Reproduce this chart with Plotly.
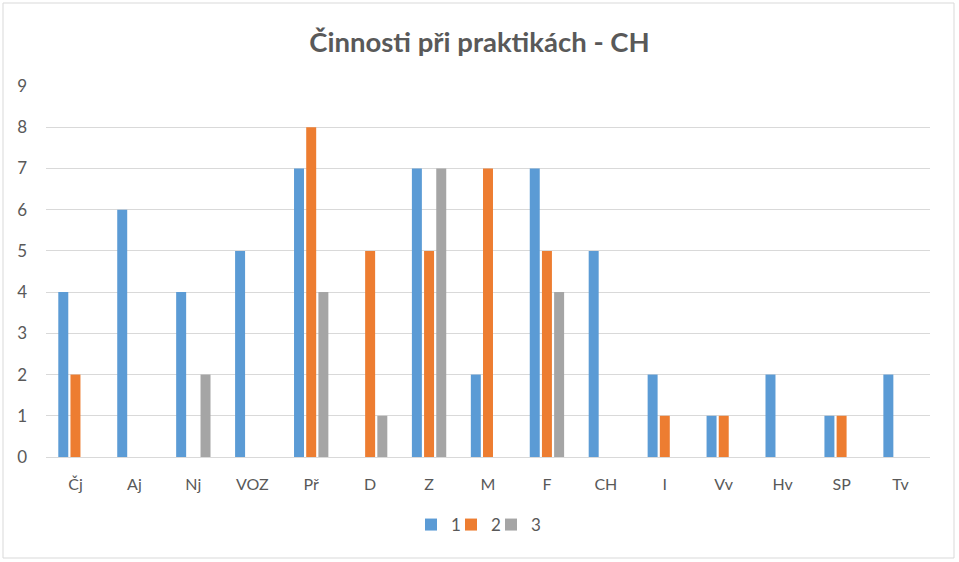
import plotly.graph_objects as go

categories = ["Čj", "Aj", "Nj", "VOZ", "Př", "D", "Z", "M", "F", "CH", "I", "Vv", "Hv", "SP", "Tv"]
series_names = ["1", "2", "3"]
s1 = [4, 6, 4, 5, 7, 0, 7, 2, 7, 5, 2, 1, 2, 1, 2]
s2 = [2, 0, 0, 0, 8, 5, 5, 7, 5, 0, 1, 1, 0, 1, 0]
s3 = [0, 0, 2, 0, 4, 1, 7, 0, 4, 0, 0, 0, 0, 0, 0]
colors = ["#5B9BD5", "#ED7D31", "#A5A5A5"]

font_family = "Lato, Carlito, Calibri, Open Sans, sans-serif"
text_color = "#595959"

L, R, T, B = 46, 930, 86, 457
W, H = 959, 562
pw, ph = R - L, B - T

def px(x):
    return (x - L) / pw

def py(y):
    return (B - y) / ph

legend_ids = ["legend", "legend2", "legend3"]
legend_starts = [411, 451, 491]

fig = go.Figure()
for name, vals, col, lid in zip(series_names, [s1, s2, s3], colors, legend_ids):
    fig.add_trace(go.Bar(x=categories, y=vals, name=name, marker_color=col,
                         marker_line_width=0, legend=lid, showlegend=True))

legend_common = dict(orientation="h", yanchor="middle", xanchor="left",
                     font=dict(size=17, color=text_color), itemwidth=30,
                     bgcolor="rgba(0,0,0,0)", borderwidth=0, visible=True)

layout_legends = {}
for lid, xs in zip(legend_ids, legend_starts):
    layout_legends[lid] = dict(legend_common, x=px(xs), y=py(525))

fig.update_layout(
    width=W, height=H,
    showlegend=True,
    margin=dict(l=L, r=W - R, t=T, b=H - B, pad=0),
    paper_bgcolor="white", plot_bgcolor="white",
    barmode="group", bargap=0.38, bargroupgap=0.18,
    font=dict(family=font_family, color=text_color, size=16),
    title=dict(text="<b>Činnosti při praktikách - CH</b>", x=0.5, xanchor="center",
               y=1 - 42 / H, yanchor="middle",
               font=dict(size=27.5, color=text_color, family=font_family)),
    xaxis=dict(showgrid=False, showline=True, linecolor="#D9D9D9", linewidth=1,
               ticks="", tickfont=dict(size=16, color=text_color), ticklabelstandoff=13,
               zeroline=False),
    yaxis=dict(range=[0, 9], dtick=1, showgrid=True, gridcolor="#D9D9D9", gridwidth=1,
               showline=False, zeroline=False, ticks="",
               tickfont=dict(size=17, color=text_color), ticklabelstandoff=18),
    shapes=[dict(type="rect", xref="paper", yref="paper",
                 x0=px(3), x1=px(954), y0=py(558), y1=py(3),
                 line=dict(color="#D9D9D9", width=1), layer="below")],
    **layout_legends,
)

fig.write_html("out.html", config={"displayModeBar": False},
               post_script="document.body.style.margin='0px';")
